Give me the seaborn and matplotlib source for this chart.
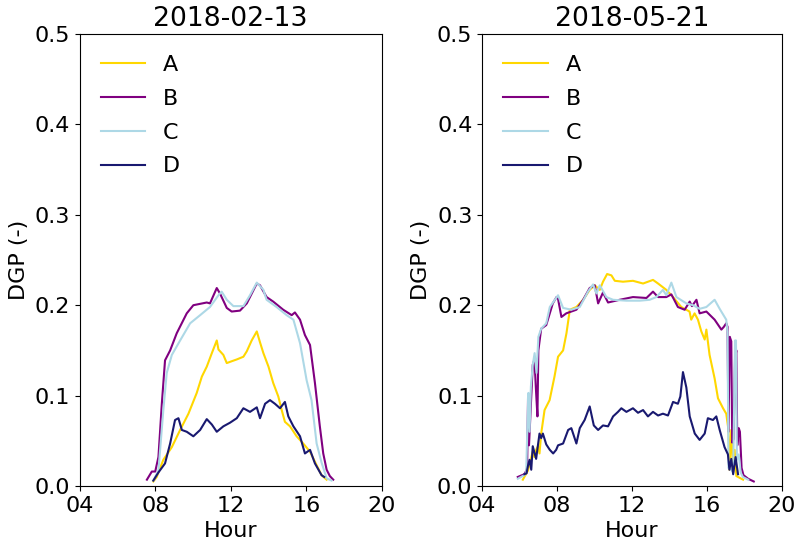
import numpy as np
import pandas as pd
import matplotlib
matplotlib.use("Agg")
import matplotlib.pyplot as plt
import seaborn as sns

series_names = ["A", "B", "C", "D"]
colors = {"A": "#FFD700", "B": "#800080", "C": "#ADD8E6", "D": "#191970"}
dates = ["2018-02-13", "2018-05-21"]
xtick_vals = [4, 8, 12, 16, 20]
xtick_labels = ["04", "08", "12", "16", "20"]

# ---- 2018-02-13 ----
feb_A_h = [7.9, 8.08, 8.43, 8.88, 9.32, 9.76, 10.2, 10.47, 10.73, 11.0, 11.26, 11.35, 11.61, 11.79,
           12.05, 12.32, 12.67, 12.85, 13.11, 13.38, 13.55, 13.73, 14.0, 14.25, 14.52, 14.7, 14.87,
           15.14, 15.49, 15.84, 16.2, 16.55, 16.81, 17.08]
feb_A_v = [.005, .010, .029, .043, .062, .080, .103, .121, .132, .147, .161, .151, .145, .136,
           .138, .140, .143, .149, .161, .171, .159, .147, .132, .114, .099, .084, .071,
           .066, .055, .047, .038, .023, .012, .007]
feb_B_h = [7.56, 7.82, 8.0, 8.17, 8.35, 8.52, 8.79, 9.14, 9.67, 10.02, 10.73, 10.9, 11.26, 11.43,
           11.79, 12.05, 12.49, 12.85, 13.38, 13.55, 13.9, 14.25, 14.78, 15.23, 15.4, 15.67, 15.93,
           16.2, 16.46, 16.72, 16.9, 17.08, 17.25, 17.43]
feb_B_v = [.007, .016, .016, .032, .091, .139, .150, .169, .191, .200, .203, .202, .219, .213,
           .197, .193, .194, .202, .224, .222, .209, .204, .195, .189, .192, .184, .167,
           .156, .114, .066, .036, .018, .011, .007]
feb_C_h = [7.9, 8.17, 8.43, 8.61, 8.88, 9.32, 9.85, 10.38, 10.9, 11.35, 11.52, 11.79, 12.14, 12.67,
           13.02, 13.38, 13.73, 13.9, 14.43, 14.96, 15.32, 15.67, 16.02, 16.28, 16.55, 16.81, 17.08, 17.34]
feb_C_v = [.006, .017, .084, .125, .145, .161, .180, .189, .198, .211, .215, .206, .199, .199,
           .211, .225, .217, .206, .198, .189, .184, .158, .117, .095, .047, .026, .0085, .006]
feb_D_h = [7.9, 8.17, 8.52, 8.79, 9.05, 9.23, 9.41, 9.67, 10.02, 10.38, 10.73, 11.0, 11.26, 11.61,
           11.96, 12.32, 12.67, 13.02, 13.38, 13.55, 13.82, 14.08, 14.34, 14.61, 14.87, 15.05, 15.32,
           15.67, 15.93, 16.2, 16.46, 16.81, 16.95]
feb_D_v = [.006, .015, .025, .047, .073, .075, .062, .060, .055, .062, .074, .068, .060, .066,
           .070, .075, .086, .082, .087, .075, .091, .095, .091, .086, .093, .077, .066,
           .055, .036, .040, .025, .012, .010]

# ---- 2018-05-21 ----
may_A_h = [6.17, 6.44, 6.7, 6.79, 6.88, 6.98, 7.06, 7.15, 7.33, 7.6, 7.86, 8.05, 8.32, 8.5, 8.68,
           9.03, 9.39, 9.74, 10.01, 10.28, 10.45, 10.67, 10.9, 11.08, 11.52, 12.05, 12.59, 13.12,
           13.39, 13.83, 14.19, 14.63, 15.07, 15.16, 15.34, 15.52, 15.7, 15.88, 15.97, 16.14, 16.41,
           16.59, 16.86, 17.03, 17.15, 17.2, 17.3, 17.4, 17.48, 17.57, 17.75, 17.93]
may_A_v = [.007, .017, .038, .032, .040, .044, .036, .058, .084, .095, .121, .143, .150, .169, .195,
           .198, .206, .217, .222, .217, .226, .2345, .233, .227, .226, .227, .224, .228,
           .224, .217, .209, .198, .193, .184, .191, .184, .171, .162, .173, .145, .119,
           .097, .086, .080, .062, .018, .062, .015, .040, .011, .009, .007]
may_B_h = [5.9, 6.25, 6.33, 6.4, 6.45, 6.5, 6.6, 6.7, 6.79, 6.88, 6.95, 7.0, 7.15, 7.42, 7.77, 7.97,
           8.05, 8.23, 8.49, 9.03, 9.39, 9.74, 10.01, 10.19, 10.45, 10.72, 11.34, 12.05, 12.77, 13.12,
           13.39, 13.83, 14.1, 14.45, 14.81, 15.08, 15.2, 15.44, 15.61, 15.97, 16.41, 16.77, 16.9,
           17.03, 17.1, 17.15, 17.22, 17.3, 17.35, 17.42, 17.5, 17.57, 17.62, 17.7, 17.76, 17.85,
           17.95, 18.2, 18.5]
may_B_v = [.010, .013, .016, .020, .101, .045, .090, .134, .140, .103, .077, .150, .174, .178, .202, .209,
           .207, .187, .191, .195, .206, .219, .222, .202, .214, .203, .206, .209, .208, .215,
           .209, .209, .212, .198, .195, .204, .199, .206, .191, .193, .184, .173, .176,
           .180, .176, .060, .165, .160, .048, .052, .140, .150, .045, .064, .060, .020,
           .012, .008, .005]
may_C_h = [5.9, 6.25, 6.35, 6.42, 6.47, 6.53, 6.6, 6.7, 6.8, 6.9, 7.0, 7.15, 7.42, 7.61, 8.05, 8.32,
           8.76, 9.21, 9.65, 9.92, 10.1, 10.28, 10.63, 10.99, 11.7, 12.41, 12.94, 13.3, 13.65, 13.83,
           14.1, 14.37, 14.9, 15.26, 15.61, 15.97, 16.41, 16.68, 17.03, 17.1, 17.15, 17.3, 17.4, 17.5,
           17.55, 17.6, 17.7, 17.8, 17.92, 18.2]
may_C_v = [.008, .012, .015, .070, .103, .060, .110, .134, .147, .125, .165, .174, .180, .198, .211, .197,
           .195, .198, .215, .223, .213, .222, .209, .206, .205, .205, .206, .209, .217, .211,
           .225, .209, .202, .200, .196, .198, .206, .196, .184, .170, .020, .018, .015, .161,
           .161, .029, .035, .015, .010, .007]
may_D_h = [6.25, 6.37, 6.44, 6.53, 6.62, 6.7, 6.79, 6.88, 6.97, 7.06, 7.15, 7.24, 7.42, 7.61, 7.79, 7.95,
           8.05, 8.32, 8.59, 8.76, 9.03, 9.21, 9.47, 9.74, 9.96, 10.19, 10.45, 10.72, 10.99, 11.25,
           11.43, 11.7, 12.05, 12.32, 12.59, 12.85, 13.12, 13.39, 13.65, 13.92, 14.19, 14.45, 14.58,
           14.72, 14.9, 15.08, 15.35, 15.61, 15.88, 16.05, 16.32, 16.5, 16.68, 16.94, 17.12, 17.2,
           17.3, 17.4, 17.53, 17.66]
may_D_v = [.013, .014, .022, .029, .018, .044, .037, .030, .044, .058, .053, .058, .046, .040, .036, .040,
           .045, .047, .062, .064, .047, .064, .073, .088, .067, .062, .067, .066, .077, .082,
           .086, .082, .086, .081, .084, .077, .082, .078, .080, .078, .093, .091, .099,
           .126, .109, .077, .058, .051, .058, .075, .073, .077, .062, .043, .035, .018,
           .030, .013, .032, .013]

panels = [
    {"A": (feb_A_h, feb_A_v), "B": (feb_B_h, feb_B_v), "C": (feb_C_h, feb_C_v), "D": (feb_D_h, feb_D_v)},
    {"A": (may_A_h, may_A_v), "B": (may_B_h, may_B_v), "C": (may_C_h, may_C_v), "D": (may_D_h, may_D_v)},
]

plt.rcParams["font.size"] = 16
plt.rcParams["font.family"] = ["DejaVu Sans"]

fig = plt.figure(figsize=(7.97, 5.40), dpi=100)
ax_rects = [[0.100, 0.100, 0.379, 0.837], [0.605, 0.100, 0.376, 0.837]]

for rect, date, panel in zip(ax_rects, dates, panels):
    ax = fig.add_axes(rect)
    frames = []
    for name in series_names:
        h, v = panel[name]
        frames.append(pd.DataFrame({"Hour": h, "DGP": v, "Series": name}))
    df = pd.concat(frames, ignore_index=True)
    sns.lineplot(data=df, x="Hour", y="DGP", hue="Series", palette=colors,
                 estimator=None, sort=False, linewidth=1.5, ax=ax)
    ax.set_xlim(4, 20)
    ax.set_ylim(0, 0.5)
    ax.set_xticks(xtick_vals)
    ax.set_xticklabels(xtick_labels)
    ax.set_yticks([0.0, 0.1, 0.2, 0.3, 0.4, 0.5])
    ax.set_xlabel("Hour")
    ax.set_ylabel("DGP (-)")
    ax.set_title(date, fontsize=19.2)
    handles, labels = ax.get_legend_handles_labels()
    ax.legend(handles, labels, loc="upper left", frameon=False,
              labelspacing=0.62, borderaxespad=0.55, handlelength=2.0, handletextpad=0.8)

fig.savefig("out.png", dpi=100)
